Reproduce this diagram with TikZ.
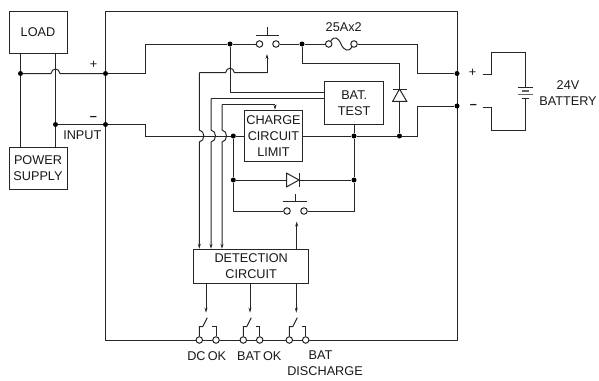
\documentclass[tikz,border=0pt]{standalone}
\usepackage{fontspec}
\setmainfont{Liberation Sans}
\usetikzlibrary{arrows.meta}
\tikzset{
  wire/.style={line width=1pt,black!85},
  sig/.style={wire,-{Stealth[length=5pt,width=3pt]}},
  boxnode/.style={draw,line width=1pt,black!85,fill=white,text=black!90,align=center,inner sep=0pt,font=\fontsize{12.7}{16}\selectfont},
  txt/.style={align=center,inner sep=0pt,text=black!90,font=\fontsize{12.7}{16}\selectfont},
  dotnode/.style={circle,fill=black,inner sep=0pt,minimum size=5pt},
  term/.style={circle,draw,line width=1pt,black!85,fill=white,inner sep=0pt,minimum size=6.5pt},
}
\begin{document}
\begin{tikzpicture}[x=1pt,y=-1pt]
  \useasboundingbox (0,0) rectangle (599,380);
  \node[draw,line width=1pt,black!85,minimum width=351.5pt,minimum height=329pt,inner sep=0pt] (unit) at (281.25,175.5) {};

  % boxes
  \node[boxnode,minimum width=58pt,minimum height=42pt] (load) at (38,32) {LOAD};
  \node[boxnode,minimum width=58pt,minimum height=42pt] (psu) at (38,168) {POWER\\SUPPLY};
  \node[boxnode,minimum width=58.5pt,minimum height=42.5pt] (battest) at (354.2,103) {BAT.\\TEST};
  \node[boxnode,minimum width=58.5pt,minimum height=51.5pt] (charge) at (273.5,136) {CHARGE\\CIRCUIT\\LIMIT};
  \node[boxnode,minimum width=115.5pt,minimum height=34pt] (detect) at (251.2,266.3) {DETECTION\\CIRCUIT};

  % junctions
  \node[dotnode] (jload) at (20.5,73.5) {};
  \node[dotnode] (jpsu) at (55.5,124.5) {};
  \node[dotnode] (jinp) at (105.5,73.5) {};
  \node[dotnode] (jinn) at (105.5,124.5) {};
  \node[dotnode] (jsw) at (230,44) {};
  \node[dotnode] (jfuse) at (302,44) {};
  \node[dotnode] (jchg) at (233.3,136) {};
  \node[dotnode] (jbat) at (354,136) {};
  \node[dotnode] (jdio) at (399.5,136) {};
  \node[dotnode] (jdl) at (233.3,180) {};
  \node[dotnode] (jdr) at (354,180) {};
  \node[dotnode] (jbp) at (457,73.5) {};
  \node[dotnode] (jbn) at (457,106) {};

  % switches and fuse
  \node[term] (swa) at (259.5,44) {};
  \node[term] (swb) at (276,44) {};
  \node[term] (swc) at (287,211) {};
  \node[term] (swd) at (304,211) {};
  \node[term] (fusea) at (328.7,44) {};
  \node[term] (fuseb) at (354,44) {};
  \coordinate (swbarl) at (255.7,35.3);
  \coordinate (swbarr) at (279,35.3);
  \coordinate (swtop) at (267.7,27);
  \coordinate (swbarm) at (267.7,35.3);
  \coordinate (sxbarl) at (283,201.7);
  \coordinate (sxbarr) at (306.7,201.7);
  \coordinate (sxtop) at (295.5,194);
  \coordinate (sxbarm) at (295.5,201.7);

  % left side
  \draw[wire] (load.south -| jload) -- (jload) -- (psu.north -| jload);
  \draw[wire] (load.south -| jpsu) -- (jpsu) -- (psu.north -| jpsu);
  \draw[wire] (jload) -- (51,73.5) .. controls +(1,-6) and +(-1,-6) .. (60,73.5) -- (jinp);
  \draw[wire] (jpsu) -- (jinn);

  % plus rail
  \coordinate (rpa) at (145,44);
  \coordinate (rpb) at (417.7,44);
  \draw[wire] (jinp) -| (rpa) -- (jsw) -- (swa);
  \draw[wire] (swb) -- (jfuse) -- (fusea);
  \draw[wire] (fusea) .. controls (334,36) and (338,37) .. (341,44) .. controls (344,51) and (349,52) .. (fuseb);
  \draw[wire] (fuseb) -- (rpb) |- (jbp);
  \draw[wire] (swbarl) -- (swbarr);
  \draw[wire] (swtop) -- (swbarm);

  % minus rail
  \coordinate (rna) at (145,136);
  \coordinate (rnb) at (417.7,136);
  \draw[wire] (jinn) -| (rna) -- (jchg);
  \draw[wire] (jchg) -- (charge.west);
  \draw[wire] (charge.east) -- (jbat) -- (jdio) -- (rnb) |- (jbn);

  % reverse diode
  \coordinate (dioa) at (399.5,63.7);
  \draw[wire] (jfuse) |- (dioa) -- (jdio);
  \draw[wire,fill=white] (399.5,89) -- (392.7,101.3) -- (406.7,101.3) -- cycle;
  \draw[wire] (392.7,89) -- (406.7,89);

  % sense lines
  \coordinate (sa) at (199.3,72.7);
  \coordinate (sb) at (267,72.7);
  \coordinate (sc) at (267,54);
  \coordinate (sd) at (325,98.7);
  \coordinate (se) at (211,98.7);
  \coordinate (sf) at (222,104.7);
  \coordinate (sg) at (275,104.7);
  \coordinate (sh) at (325,92);
  \draw[wire] (jsw) |- (sh);
  \draw[sig] (sa) -- (199.3,130) .. controls +(6,1) and +(6,-1) .. (199.3,142) -- (sa |- detect.north);
  \draw[wire] (sa) -- (225.5,72.7) .. controls +(1,-6) and +(-1,-6) .. (234.5,72.7) -- (sb);
  \draw[sig] (sb) -- (sc);
  \draw[wire] (sd) -- (se);
  \draw[sig] (se) -- (211,130) .. controls +(6,1) and +(6,-1) .. (211,142) -- (se |- detect.north);
  \draw[wire] (sf) -- (sg);
  \draw[sig] (sf) -- (222,130) .. controls +(6,1) and +(6,-1) .. (222,142) -- (sf |- detect.north);
  \draw[sig] (sg) -- (sg |- charge.north);

  % charge path
  \draw[wire] (battest.south -| jbat) -- (jbat) -- (jdr) |- (swd);
  \draw[wire] (jchg) -- (jdl) |- (swc);
  \coordinate (dia) at (286.7,180);
  \coordinate (dib) at (299,180);
  \draw[wire] (jdl) -- (dia);
  \draw[wire] (dib) -- (jdr);
  \draw[wire,fill=white] (dia) -- (286.7,173.2) -- (dib) -- (286.7,186.8) -- cycle;
  \draw[wire] (299,173.2) -- (299,186.8);
  \draw[wire] (sxbarl) -- (sxbarr);
  \draw[wire] (sxtop) -- (sxbarm);
  \coordinate (sxarrow) at (296.7,221.5);
  \draw[sig] (detect.north -| sxarrow) -- (sxarrow);

  % battery
  \coordinate (bpa) at (491,74);
  \coordinate (bpb) at (491,52);
  \coordinate (bpc) at (525,87.7);
  \coordinate (bna) at (491,107);
  \coordinate (bnb) at (491,130);
  \coordinate (bnc) at (525,98.3);
  \coordinate (bpd) at (482.7,74);
  \coordinate (bnd) at (482.7,107);
  \draw[wire] (bpd) -- (bpa) -- (bpb) -| (bpc);
  \draw[wire] (bnd) -- (bna) -- (bnb) -| (bnc);
  \draw[wire] (517.7,87.7) -- (532.7,87.7);
  \draw[wire,line width=1.3pt,black!60] (521.5,90.9) -- (528.5,90.9);
  \draw[wire,line width=1.2pt,black!60] (517.7,94.3) -- (532.7,94.3);
  \draw[wire] (521.7,98.3) -- (528.5,98.3);

  % outputs
  \node[term] (oaa) at (199.3,340) {};
  \node[term] (oab) at (216,340) {};
  \node[term] (oba) at (243.3,340) {};
  \node[term] (obb) at (259.7,340) {};
  \node[term] (oca) at (289.3,340) {};
  \node[term] (ocb) at (305.7,340) {};
  \coordinate (aar) at (206,312.7);
  \coordinate (bar) at (250,312.7);
  \coordinate (car) at (296.3,312.7);
  \draw[sig] (detect.south -| aar) -- (aar);
  \draw[sig] (detect.south -| bar) -- (bar);
  \draw[sig] (detect.south -| car) -- (car);
  \draw[wire] (oaa) -- (199.3,326.7) -- (202.7,326.7) -- (207.3,317.7);
  \draw[wire] (oab) -- (216,326.7) -- (212,326.7);
  \draw[wire] (oba) -- (243.3,326.7) -- (246.7,326.7) -- (251.3,317.7);
  \draw[wire] (obb) -- (259.7,326.7) -- (255.7,326.7);
  \draw[wire] (oca) -- (289.3,326.7) -- (292.7,326.7) -- (297.3,317.7);
  \draw[wire] (ocb) -- (305.7,326.7) -- (301.7,326.7);

  % labels
  \node[txt] (lplus) at (93.5,64.5) {+};
  \node[txt] (lminus) at (93.5,118) {\textbf{--}};
  \node[txt] (linput) at (82.3,135) {INPUT};
  \node[txt] (lfuse) at (343.7,26.7) {25Ax2};
  \node[txt] (lbplus) at (472.7,72.7) {+};
  \node[txt] (lbminus) at (473.5,106.5) {\textbf{--}};
  \node[txt] (lbatt) at (568,92.7) {24V\\BATTERY};
  \node[txt] (ldcok) at (206.7,356) {DC\spaceskip=2.2pt\relax{} OK};
  \node[txt] (lbatok) at (259.3,356) {BAT\spaceskip=2.2pt\relax{} OK};
  \node[txt] (ldisch) at (325,363.5) {BAT\kern9pt\\DISCHARGE};
\end{tikzpicture}
\end{document}
